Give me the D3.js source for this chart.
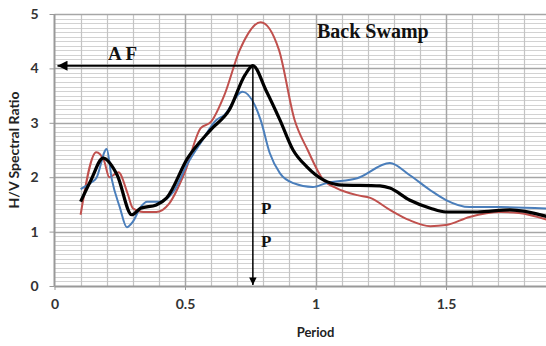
<!DOCTYPE html>
<html>
<head>
<meta charset="utf-8">
<script src="https://cdn.jsdelivr.net/npm/d3@7"></script>
<style>
  html, body { margin: 0; padding: 0; background: #fff; }
  svg { display: block; }
</style>
</head>
<body>
<svg id="chart" width="546" height="346"></svg>
<script>
// H/V spectral ratio curves (period in seconds)
const redPeriod  = [0.10, 0.16, 0.19, 0.21, 0.245, 0.28, 0.30, 0.34, 0.39, 0.44, 0.50, 0.56, 0.60, 0.65, 0.71, 0.79, 0.86, 0.92, 0.97, 1.03, 1.08, 1.16, 1.21, 1.285, 1.36, 1.44, 1.50, 1.59, 1.71, 1.78, 1.90];
const redRatio   = [1.31, 2.46, 2.30, 2.00, 2.09, 1.70, 1.43, 1.36, 1.36, 1.52, 2.10, 2.90, 3.02, 3.50, 4.34, 4.85, 4.34, 3.05, 2.50, 1.95, 1.80, 1.67, 1.62, 1.40, 1.21, 1.10, 1.12, 1.27, 1.36, 1.34, 1.20];

const bluePeriod = [0.10, 0.14, 0.16, 0.20, 0.22, 0.25, 0.277, 0.30, 0.33, 0.355, 0.40, 0.455, 0.51, 0.56, 0.62, 0.65, 0.72, 0.79, 0.825, 0.864, 0.915, 0.99, 1.04, 1.16, 1.285, 1.36, 1.44, 1.50, 1.59, 1.71, 1.90];
const blueRatio  = [1.78, 1.90, 1.98, 2.52, 1.95, 1.45, 1.08, 1.18, 1.45, 1.55, 1.55, 1.73, 2.25, 2.63, 3.05, 3.14, 3.57, 3.05, 2.44, 2.07, 1.89, 1.82, 1.89, 1.98, 2.26, 2.04, 1.76, 1.58, 1.45, 1.45, 1.42];

const meanPeriod = [0.10, 0.14, 0.186, 0.24, 0.296, 0.33, 0.39, 0.43, 0.51, 0.60, 0.67, 0.73, 0.76, 0.81, 0.864, 0.914, 0.967, 1.03, 1.09, 1.247, 1.285, 1.36, 1.44, 1.50, 1.62, 1.745, 1.90];
const meanRatio  = [1.55, 1.95, 2.35, 2.04, 1.31, 1.43, 1.49, 1.62, 2.35, 2.88, 3.24, 3.88, 4.05, 3.60, 3.05, 2.50, 2.19, 1.95, 1.86, 1.84, 1.80, 1.58, 1.43, 1.36, 1.36, 1.40, 1.26];

const xTicks = [0, 0.5, 1, 1.5];
const yTicks = [0, 1, 2, 3, 4, 5];

// Amplification factor / predominant period
const peakPeriod = 0.76;
const peakRatio = 4.05;

const svg = d3.select("#chart");
const W = 546, H = 346;

const x = d3.scaleLinear().domain([0, 2]).range([54.5, 54.5 + 2 * 261]);
const y = d3.scaleLinear().domain([0, 5]).range([286, 14]);

const defs = svg.append("defs");
defs.append("clipPath").attr("id", "plotclip")
  .append("rect").attr("x", 0).attr("y", 0).attr("width", W).attr("height", H);

const grid = svg.append("g").attr("clip-path", "url(#plotclip)");

// minor horizontal grid
const yMinor = d3.range(0, 5 * 12 + 1).map(i => i / 12).filter(v => Math.abs(v - Math.round(v)) > 1e-6);
grid.selectAll(".hminor").data(yMinor).enter().append("line")
  .attr("x1", x(0)).attr("x2", W)
  .attr("y1", d => Math.round(y(d)) + 0.5).attr("y2", d => Math.round(y(d)) + 0.5)
  .attr("stroke", "#d2d2d2").attr("stroke-width", 1);

// minor vertical grid every 0.1
const xMinor = d3.range(1, 20).map(i => i / 10).filter(v => Math.abs(v * 2 - Math.round(v * 2)) > 1e-6);
grid.selectAll(".vminor").data(xMinor).enter().append("line")
  .attr("x1", d => Math.round(x(d)) + 0.5).attr("x2", d => Math.round(x(d)) + 0.5)
  .attr("y1", y(5)).attr("y2", y(0))
  .attr("stroke", "#c4c4c4").attr("stroke-width", 1.2);

// major vertical grid every 0.5
grid.selectAll(".vmajor").data([0.5, 1, 1.5]).enter().append("line")
  .attr("x1", d => Math.round(x(d)) + 0.5).attr("x2", d => Math.round(x(d)) + 0.5)
  .attr("y1", y(5)).attr("y2", y(0))
  .attr("stroke", "#a6a6a6").attr("stroke-width", 1.5);

// major horizontal grid
grid.selectAll(".hmajor").data(yTicks.filter(v => v > 0)).enter().append("line")
  .attr("x1", x(0)).attr("x2", W)
  .attr("y1", d => Math.round(y(d)) + 0.5).attr("y2", d => Math.round(y(d)) + 0.5)
  .attr("stroke", "#a6a6a6").attr("stroke-width", 1.5);

// axes
const xAxis = d3.axisBottom(x).tickValues(xTicks).tickSize(4).tickPadding(6)
  .tickFormat(d => d === 0 ? "0" : String(d));
const yAxis = d3.axisLeft(y).tickValues(yTicks).tickSize(5).tickPadding(11)
  .tickFormat(d3.format("d"));

const gx = svg.append("g").attr("transform", `translate(0,${y(0)})`).call(xAxis);
gx.select(".domain").attr("d", `M${x(0)},0.5H${W}`).attr("stroke", "#999").attr("stroke-width", 2);
gx.selectAll(".tick line").attr("stroke", "#999");

const gy = svg.append("g").attr("transform", `translate(${x(0)},0)`).call(yAxis);
gy.select(".domain").attr("d", `M0,${y(5)}V${y(0)}`).attr("stroke", "#999").attr("stroke-width", 2);
gy.selectAll(".tick line").attr("stroke", "#999");

svg.selectAll(".tick text")
  .attr("font-family", "Lato, 'Open Sans', sans-serif")
  .attr("font-weight", "bold").attr("font-size", 14).attr("fill", "#333");
gx.selectAll(".tick text").attr("dy", "0.9em");

// series
const line = d3.line().x(d => x(d[0])).y(d => y(d[1])).curve(d3.curveMonotoneX);
const lines = svg.append("g").attr("clip-path", "url(#plotclip)");
lines.append("path").datum(d3.zip(redPeriod, redRatio)).attr("d", line)
  .attr("fill", "none").attr("stroke", "#c0504d").attr("stroke-width", 2);
lines.append("path").datum(d3.zip(bluePeriod, blueRatio)).attr("d", line)
  .attr("fill", "none").attr("stroke", "#4a7ebb").attr("stroke-width", 2);
lines.append("path").datum(d3.zip(meanPeriod, meanRatio)).attr("d", line)
  .attr("fill", "none").attr("stroke", "#000").attr("stroke-width", 3.2);

// annotation arrows
defs.append("marker").attr("id", "arrowhead").attr("viewBox", "0 0 10 10")
  .attr("refX", 10).attr("refY", 5).attr("markerWidth", 6).attr("markerHeight", 5)
  .attr("markerUnits", "strokeWidth").attr("orient", "auto")
  .append("path").attr("d", "M0,0L10,5L0,10Z").attr("fill", "#000");

svg.append("line")
  .attr("x1", x(peakPeriod)).attr("y1", y(peakRatio))
  .attr("x2", x(0) + 3).attr("y2", y(peakRatio))
  .attr("stroke", "#000").attr("stroke-width", 2).attr("marker-end", "url(#arrowhead)");
svg.append("line")
  .attr("x1", x(peakPeriod)).attr("y1", y(peakRatio))
  .attr("x2", x(peakPeriod)).attr("y2", y(0) - 1)
  .attr("stroke", "#000").attr("stroke-width", 1.5).attr("marker-end", "url(#arrowhead)");

const serif = "'Liberation Serif', 'Times New Roman', serif";
svg.append("text").attr("x", 108).attr("y", 60).text("A F")
  .attr("font-family", serif).attr("font-weight", "bold").attr("font-size", 19).attr("fill", "#111");
svg.append("text").attr("x", 261).attr("y", 214).text("P")
  .attr("font-family", serif).attr("font-weight", "bold").attr("font-size", 17).attr("fill", "#111");
svg.append("text").attr("x", 261).attr("y", 247).text("P")
  .attr("font-family", serif).attr("font-weight", "bold").attr("font-size", 17).attr("fill", "#111");
svg.append("text").attr("x", 317).attr("y", 38).text("Back Swamp")
  .attr("font-family", serif).attr("font-weight", "bold").attr("font-size", 20).attr("fill", "#111");

// axis titles
svg.append("text").attr("x", x(1)).attr("y", 337).attr("text-anchor", "middle").text("Period")
  .attr("font-family", "Lato, 'Open Sans', sans-serif").attr("font-weight", "bold")
  .attr("font-size", 13).attr("fill", "#222");
svg.append("text").attr("transform", "translate(19,150) rotate(-90)")
  .attr("text-anchor", "middle").text("H/V Spectral Ratio")
  .attr("font-family", "Lato, 'Open Sans', sans-serif").attr("font-weight", "bold")
  .attr("font-size", 14).attr("fill", "#222");
</script>
</body>
</html>
